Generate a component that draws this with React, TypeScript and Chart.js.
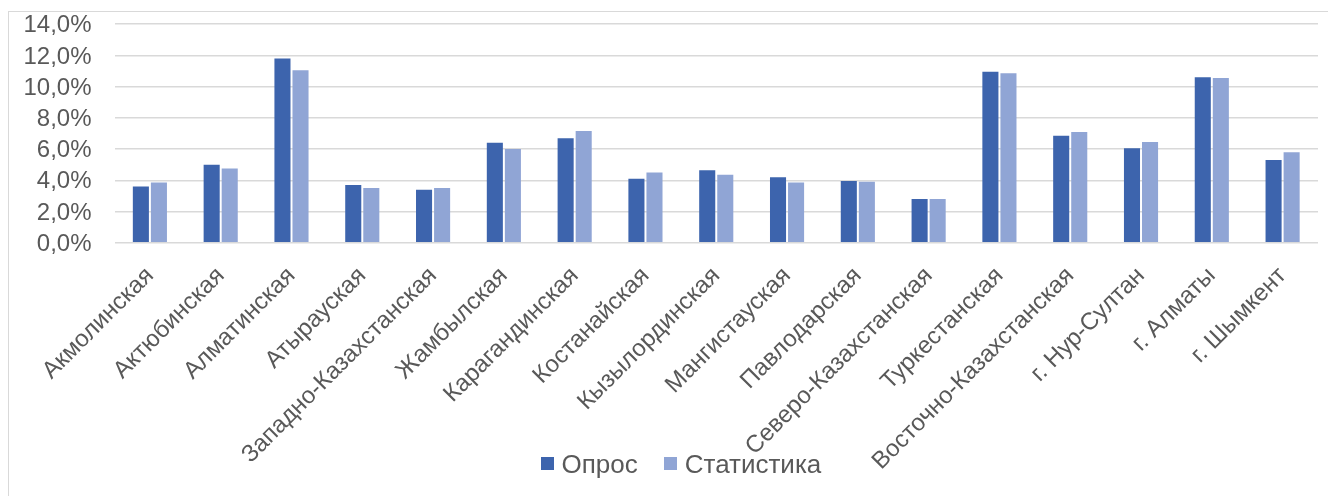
import React, { useEffect, useRef } from "react";
import { Chart, registerables } from "chart.js";

Chart.register(...registerables);

const categories: string[] = [
  "Акмолинская",
  "Актюбинская",
  "Алматинская",
  "Атырауская",
  "Западно-Казахстанская",
  "Жамбылская",
  "Карагандинская",
  "Костанайская",
  "Кызылординская",
  "Мангистауская",
  "Павлодарская",
  "Северо-Казахстанская",
  "Туркестанская",
  "Восточно-Казахстанская",
  "г. Нур-Султан",
  "г. Алматы",
  "г. Шымкент",
];

const surveyValues: number[] = [3.6, 5.0, 11.8, 3.7, 3.4, 6.4, 6.7, 4.1, 4.65, 4.2, 3.95, 2.8, 10.95, 6.85, 6.05, 10.6, 5.3];
const statValues: number[] = [3.85, 4.75, 11.05, 3.5, 3.5, 6.0, 7.15, 4.5, 4.35, 3.85, 3.9, 2.8, 10.85, 7.1, 6.45, 10.55, 5.8];

const seriesNames: string[] = ["Опрос", "Статистика"];
const seriesColors: string[] = ["#3D64AD", "#90A5D5"];
const yTicks: number[] = [0, 2, 4, 6, 8, 10, 12, 14];

const FONT = '"Liberation Sans", Arial, sans-serif';
const TEXT = "#595959";

export default function App() {
  const ref = useRef<HTMLCanvasElement | null>(null);

  useEffect(() => {
    if (!ref.current) return;
    const chart = new Chart(ref.current, {
      type: "bar",
      data: {
        labels: categories,
        datasets: seriesNames.map((name, i) => ({
          label: name,
          data: i === 0 ? surveyValues : statValues,
          backgroundColor: seriesColors[i],
          categoryPercentage: 0.51,
          barPercentage: 0.89,
        })),
      },
      options: {
        animation: false,
        responsive: true,
        maintainAspectRatio: false,
        layout: { padding: { top: 12.2, right: 18, bottom: 0, left: 0 } },
        plugins: {
          tooltip: { enabled: false },
          legend: { display: false },
        },
        scales: {
          x: {
            grid: { display: false, drawTicks: false },
            border: { display: false },
            ticks: {
              autoSkip: false,
              minRotation: 45,
              maxRotation: 45,
              padding: 19,
              color: TEXT,
              font: { family: FONT, size: 24 },
            },
            afterFit: (scale: any) => {
              scale.height = 253.3;
            },
          },
          y: {
            min: 0,
            max: 14,
            afterBuildTicks: (scale: any) => {
              scale.ticks = yTicks.map((v) => ({ value: v }));
            },
            grid: { color: "#d9d9d9", lineWidth: 1.5, drawTicks: false },
            border: { display: false },
            ticks: {
              padding: 23,
              labelOffset: 1.5,
              color: TEXT,
              font: { family: FONT, size: 24, lineHeight: 1 },
              callback: (v: any) => Number(v).toFixed(1).replace(".", ",") + "%",
            },
            afterFit: (scale: any) => {
              scale.width = 105.5;
              scale.paddingTop = 0;
              scale.paddingBottom = 0;
            },
          },
        },
      },
    });
    return () => chart.destroy();
  }, []);

  return (
    <div
      style={{
        marginTop: 3,
        height: 485,
        borderTop: "1.5px solid #d9d9d9",
        borderLeft: "1.5px solid #d9d9d9",
        boxSizing: "border-box",
        marginRight: -8,
        background: "#fff",
        position: "relative",
      }}
    >
      <canvas ref={ref} />
      <div
        style={{
          position: "absolute",
          left: 531.5,
          top: 438.5,
          height: 26,
          display: "flex",
          alignItems: "center",
          fontFamily: FONT,
          fontSize: 26,
          lineHeight: "26px",
          color: TEXT,
          whiteSpace: "nowrap",
        }}
      >
        {seriesNames.map((name, i) => (
          <div key={name} style={{ display: "flex", alignItems: "center", marginRight: i === 0 ? 26 : 0 }}>
            <span
              style={{
                width: 13,
                height: 13,
                background: seriesColors[i],
                display: "inline-block",
                marginRight: 8,
              }}
            />
            <span>{name}</span>
          </div>
        ))}
      </div>
    </div>
  );
}
